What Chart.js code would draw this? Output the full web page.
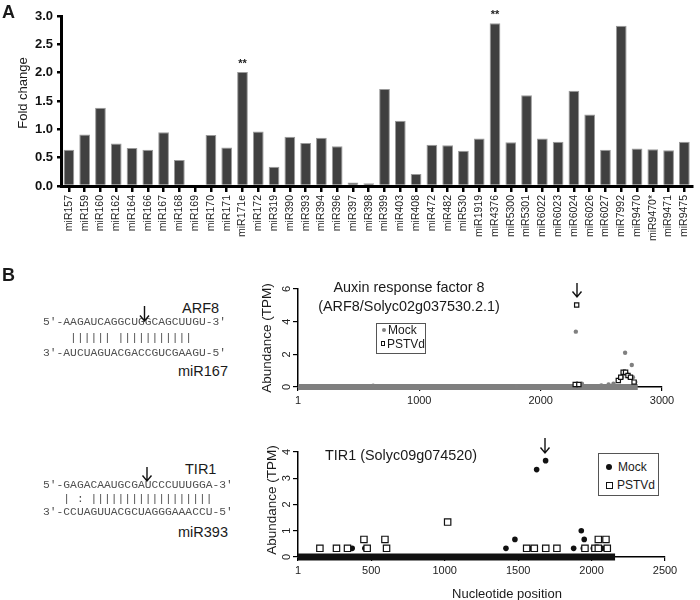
<!DOCTYPE html>
<html><head><meta charset="utf-8">
<script src="https://cdn.jsdelivr.net/npm/chart.js@4.4.1/dist/chart.umd.min.js"></script>
<style>
body{margin:0;width:700px;height:600px;background:#fff;position:relative;overflow:hidden;font-family:"Liberation Sans",Arial,sans-serif;color:#1a1a1a;}
.abs{position:absolute;white-space:pre;line-height:1;}
.c{transform:translate(-50%,-50%);}
.r{transform:translate(-50%,-50%) rotate(-90deg);}
.seq{font-family:"Liberation Mono","DejaVu Sans Mono",monospace;font-size:11.3px;color:#505050;transform:translateY(-50%);opacity:0.999;will-change:transform;}
.lab{font-size:14.5px;transform:translateY(-50%);color:#1a1a1a;}
.box{position:absolute;background:#fff;border:1px solid #555;box-sizing:border-box;}
canvas{position:absolute;}
</style></head><body>

<canvas id="cA" width="700" height="290" style="left:0;top:0"></canvas>
<canvas id="cB1" width="450" height="145" style="left:250px;top:270px"></canvas>
<canvas id="cB2" width="450" height="175" style="left:250px;top:425px"></canvas>

<div class="abs" style="left:2px;top:3px;font-size:18px;font-weight:bold">A</div>
<div class="abs" style="left:2px;top:266px;font-size:18px;font-weight:bold">B</div>
<div class="abs r" style="left:22px;top:93px;font-size:13px">Fold change</div>

<!-- ARF8 / miR167 pairing -->
<div class="abs lab" style="left:182px;top:308px">ARF8</div>
<div class="abs seq" style="left:43px;top:323px">5′-AAGAUCAGGCUGGCAGCUUGU-3′</div>
<div class="abs seq" style="left:43px;top:339px">    |||||| |||||||||||</div>
<div class="abs seq" style="left:43px;top:354px">3′-AUCUAGUACGACCGUCGAAGU-5′</div>
<div class="abs lab" style="left:178px;top:371px">miR167</div>

<!-- TIR1 / miR393 pairing -->
<div class="abs lab" style="left:185px;top:469px">TIR1</div>
<div class="abs seq" style="left:43px;top:486px">5′-GAGACAAUGCGAUCCCUUUGGA-3′</div>
<div class="abs seq" style="left:43px;top:500px">   | : ||||||||||||||||||</div>
<div class="abs seq" style="left:43px;top:513px">3′-CCUAGUUACGCUAGGGAAACCU-5′</div>
<div class="abs lab" style="left:178px;top:532px">miR393</div>

<!-- B1 texts -->
<div class="abs c" style="left:409px;top:287px;font-size:14.4px">Auxin response factor 8</div>
<div class="abs c" style="left:409px;top:306px;font-size:14.4px">(ARF8/Solyc02g037530.2.1)</div>
<div class="abs r" style="left:267px;top:338px;font-size:13.5px">Abundance (TPM)</div>
<div class="box" style="left:376px;top:323px;width:50px;height:31px"></div>
<div class="abs" style="left:382px;top:328px;width:4px;height:4px;border-radius:50%;background:#808080"></div>
<div class="abs" style="left:388px;top:330px;font-size:12px;transform:translateY(-50%)">Mock</div>
<div class="abs" style="left:381px;top:341px;width:4px;height:5px;border:1px solid #111;box-sizing:border-box"></div>
<div class="abs" style="left:387px;top:344px;font-size:12px;transform:translateY(-50%)">PSTVd</div>

<!-- B2 texts -->
<div class="abs" style="left:325px;top:455px;font-size:14.4px;transform:translateY(-50%)">TIR1 (Solyc09g074520)</div>
<div class="abs r" style="left:272px;top:500px;font-size:13.5px">Abundance (TPM)</div>
<div class="abs c" style="left:507px;top:593px;font-size:13px">Nucleotide position</div>
<div class="box" style="left:598px;top:453px;width:61px;height:43px"></div>
<div class="abs" style="left:606px;top:464px;width:6px;height:6px;border-radius:50%;background:#111"></div>
<div class="abs" style="left:618px;top:467px;font-size:12px;transform:translateY(-50%)">Mock</div>
<div class="abs" style="left:606px;top:482px;width:7px;height:7px;border:1.2px solid #111;box-sizing:border-box"></div>
<div class="abs" style="left:617px;top:485px;font-size:12px;transform:translateY(-50%)">PSTVd</div>

<svg width="700" height="600" style="position:absolute;left:0;top:0;pointer-events:none" fill="none" stroke="#111" stroke-width="1.4">
  <path d="M144.5 306 V321 M140 315.5 L144.5 321 L149 315.5"/>
  <path d="M147 467 V481 M142.5 475.5 L147 481 L151.5 475.5"/>
  <path d="M577 283 V297 M572.5 291.5 L577 297 L581.5 291.5"/>
  <path d="M545 438 V453 M540.5 447.5 L545 453 L549.5 447.5"/>
</svg>

<script>
// ---------- Panel A data ----------
const mirNames = ['miR157','miR159','miR160','miR162','miR164','miR166','miR167','miR168','miR169','miR170',
  'miR171','miR171e','miR172','miR319','miR390','miR393','miR394','miR396','miR397','miR398',
  'miR399','miR403','miR408','miR472','miR482','miR530','miR1919','miR4376','miR5300','miR5301',
  'miR6022','miR6023','miR6024','miR6026','miR6027','miR7992','miR9470','miR9470*','miR9471','miR9475'];
const foldChange = [0.64,0.91,1.38,0.75,0.67,0.64,0.95,0.46,0,0.90,
  0.68,2.01,0.96,0.34,0.87,0.76,0.85,0.70,0.06,0.05,
  1.71,1.15,0.21,0.73,0.72,0.62,0.84,2.87,0.77,1.60,
  0.84,0.78,1.68,1.26,0.64,2.83,0.66,0.65,0.63,0.78];
const significance = ['','','','','','','','','','',
  '','**','','','','','','','','',
  '','','','','','','','**','','',
  '','','','','','','','','',''];

// ---------- Panel B: ARF8 ----------
const arfXTicks = [1,1000,2000,3000];
const arfYTicks = [0,2,4,6];
const arfBandStart = 1, arfBandEnd = 2800;
const arfMockPos = [620,1800,2290,2300,2340,2500,2560,2600,2650,2670,2690,2696,2710,2730,2751,2760,2780];
const arfMockVal = [0.08,0.05,3.39,0.2,0.2,0.1,0.15,0.2,0.5,0.6,0.8,2.1,0.8,0.6,1.35,0.6,0.3];
const arfPstPos = [2297,2285,2315,2640,2660,2680,2700,2720,2740,2770];
const arfPstVal = [5.02,0.15,0.15,0.4,0.6,0.9,0.9,0.7,0.6,0.3];

// ---------- Panel B: TIR1 ----------
const tirXTicks = [1,500,1000,1500,2000,2500];
const tirYTicks = [0,1,2,3,4];
const tirBandStart = 1, tirBandEnd = 2160;
const tirMockPos = [263,370,456,604,1417,1478,1592,1626,1687,1878,1944,1930,1950,2012,2073,2100];
const tirMockVal = [0.33,0.33,0.33,0.33,0.33,0.67,0.33,3.33,3.67,0.33,0.33,1.0,0.67,0.33,0.33,0.33];
const tirPstPos = [150,263,338,450,472,593,604,1020,1558,1610,1688,1764,1955,2023,2046,2046,2098,2107];
const tirPstVal = [0.33,0.33,0.33,0.67,0.33,0.67,0.33,1.33,0.33,0.33,0.33,0.33,0.33,0.33,0.33,0.67,0.67,0.33];

Chart.defaults.font.family = '"Liberation Sans", Arial, sans-serif';
Chart.defaults.color = '#1a1a1a';

const sigPlugin = {id:'sig', afterDatasetsDraw(chart){
  const meta = chart.getDatasetMeta(0), ctx = chart.ctx;
  ctx.save(); ctx.font = 'bold 11px "Liberation Sans"'; ctx.fillStyle = '#222';
  ctx.textAlign = 'center'; ctx.textBaseline = 'bottom';
  significance.forEach((s,i)=>{ if(s){ const el = meta.data[i]; ctx.fillText(s, el.x, el.y - 3); } });
  ctx.restore();
}};

new Chart(document.getElementById('cA'), {
  type:'bar',
  data:{labels:mirNames, datasets:[{data:foldChange, backgroundColor:'#404040', borderColor:'#9a9a9a', borderWidth:1,
    barPercentage:0.68, categoryPercentage:1}]},
  options:{responsive:false, animation:false, devicePixelRatio:1,
    layout:{padding:{top:16,right:2,left:0,bottom:0}},
    plugins:{legend:{display:false}, tooltip:{enabled:false}},
    scales:{
      x:{offset:true,
        grid:{offset:false, drawOnChartArea:false, tickLength:6, lineWidth:2.5, color:'#000'},
        border:{color:'#000', width:3},
        ticks:{minRotation:90, maxRotation:90, autoSkip:false, font:{size:10.5}, color:'#222', padding:3},
        afterFit:s=>{s.height=104;}},
      y:{min:0, max:3,
        ticks:{stepSize:0.5, callback:v=>Number(v).toFixed(1), font:{size:13, weight:'bold'}, color:'#111', padding:4},
        grid:{drawOnChartArea:false, tickLength:4, lineWidth:2.5, color:'#000'},
        border:{color:'#000', width:3},
        afterFit:s=>{s.width=61;}}
    }},
  plugins:[sigPlugin]
});

const rotY = {id:'rotY', afterDraw(chart){
  const s = chart.scales.y, ctx = chart.ctx;
  ctx.save(); ctx.font = '11px "Liberation Sans"'; ctx.fillStyle = '#222';
  ctx.textAlign = 'center'; ctx.textBaseline = 'middle';
  s.ticks.forEach(t=>{
    const y = s.getPixelForValue(t.value);
    ctx.save(); ctx.translate(s.right - 11, y); ctx.rotate(-Math.PI/2);
    ctx.fillText(String(t.value), 0, 0); ctx.restore();
  });
  ctx.restore();
}};

const pts = (xs, ys) => xs.map((x,i)=>({x:x, y:ys[i]}));

function scatterChart(id, c){
  return new Chart(document.getElementById(id), {
    type:'scatter',
    data:{datasets:[
      {data:[{x:c.bandStart,y:0},{x:c.bandEnd,y:0}], showLine:true, borderColor:c.bandColor, borderWidth:c.bandWidth,
        borderCapStyle:'butt', pointRadius:0, clip:false, order:3},
      {data:pts(c.mockPos,c.mockVal), pointStyle:'circle', pointRadius:c.mockR, backgroundColor:c.mockColor,
        borderColor:c.mockColor, borderWidth:0, clip:false, order:2},
      {data:pts(c.pstPos,c.pstVal), pointStyle:'rect', pointRadius:c.pstR, backgroundColor:'#fff',
        borderColor:'#111', borderWidth:1.2, clip:false, order:1}
    ]},
    options:{responsive:false, animation:false, devicePixelRatio:1,
      layout:{padding:{top:c.padTop, right:c.padRight, left:0, bottom:0}},
      plugins:{legend:{display:false}, tooltip:{enabled:false}},
      scales:{
        x:{type:'linear', min:1, max:c.xTicks[c.xTicks.length-1],
          afterBuildTicks:s=>{s.ticks = c.xTicks.map(v=>({value:v}));},
          ticks:{font:{size:11}, color:'#222', padding:3, callback:v=>String(v)},
          grid:{drawOnChartArea:false, tickLength:4, lineWidth:1.2, color:'#000'},
          border:{color:'#000', width:1.5},
          afterFit:s=>{s.height=c.xH;}},
        y:{min:0, max:c.yTicks[c.yTicks.length-1],
          afterBuildTicks:s=>{s.ticks = c.yTicks.map(v=>({value:v}));},
          ticks:{display:false},
          grid:{drawOnChartArea:false, tickLength:5, lineWidth:1.2, color:'#000'},
          border:{color:'#000', width:1.5},
          afterFit:s=>{s.width=48;}}
      }},
    plugins:[rotY]
  });
}

scatterChart('cB1', {bandStart:arfBandStart, bandEnd:arfBandEnd, bandColor:'#7f7f7f', bandWidth:6,
  mockPos:arfMockPos, mockVal:arfMockVal, mockR:2.2, mockColor:'#808080',
  pstPos:arfPstPos, pstVal:arfPstVal, pstR:3,
  xTicks:arfXTicks, yTicks:arfYTicks, padTop:19, padRight:38, xH:28});

scatterChart('cB2', {bandStart:tirBandStart, bandEnd:tirBandEnd, bandColor:'#111', bandWidth:7,
  mockPos:tirMockPos, mockVal:tirMockVal, mockR:2.8, mockColor:'#111',
  pstPos:tirPstPos, pstVal:tirPstVal, pstR:4.5,
  xTicks:tirXTicks, yTicks:tirYTicks, padTop:27, padRight:35, xH:43});
</script>
</body></html>
